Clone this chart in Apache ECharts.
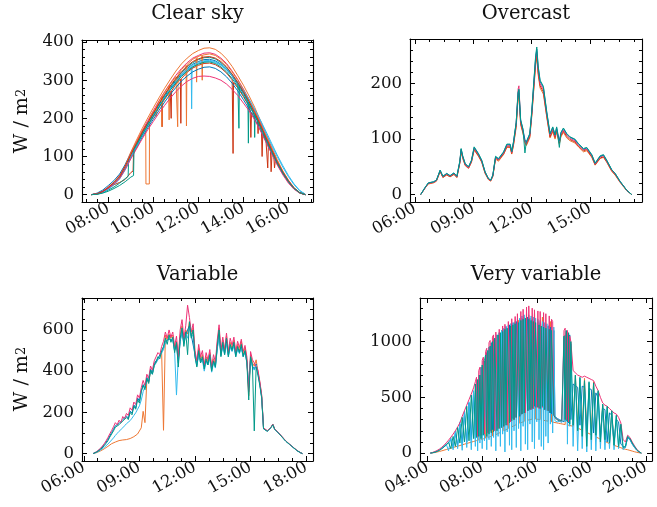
<!DOCTYPE html>
<html><head><meta charset="utf-8">
<script src="https://cdn.jsdelivr.net/npm/echarts@6/dist/echarts.min.js"></script>
<style>html,body{margin:0;padding:0;background:#fff}#chart{width:657px;height:507px}</style>
</head><body><div id="chart"></div>
<script>
// ---------------- DATA ----------------
const titles = ['Clear sky', 'Overcast', 'Variable', 'Very variable'];
const yLabelMain = 'W / m', yLabelSup = '2';

// Clear sky: 15-minute samples
const clearTimes = [7.25,7.5,7.75,8,8.25,8.5,8.75,9,9.25,9.5,9.75,10,10.25,10.5,10.75,11,11.25,11.5,11.75,12,12.25,12.5,12.75,13,13.25,13.5,13.75,14,14.25,14.5,14.75,15,15.25,15.5,15.75,16,16.25,16.5,16.75];
const clearS1 = [0,2,9,20,33,50,78,112,143,173,201,228,254,279,302,324,343,358,370,378,384,385,381,371,356,336,312,287,259,229,195,160,125,92,62,38,18,6,0];
const clearS2 = [0,4,12,24,37,54,79,108,135,162,187,210,235,258,279,299,316,331,342,349,354,355,351,342,329,310,288,265,239,211,180,147,115,84,58,35,16,5,0];
const clearS3 = [0,2,7,16,28,43,68,99,128,156,182,207,231,254,275,294,312,326,337,344,349,350,347,339,327,311,292,270,247,221,192,161,130,100,72,47,26,10,1];
const clearS4 = [0,2,9,19,32,49,75,108,138,167,194,220,246,270,292,313,331,346,358,365,371,372,368,358,344,324,302,277,250,221,189,154,121,88,60,37,17,5,0];
const clearS5 = [0,2,8,16,26,32,40,58,122,155,180,204,228,250,271,290,307,321,332,339,344,345,341,332,319,301,280,257,232,205,175,143,112,82,56,34,16,5,0];
const clearS6 = [0,1,5,12,20,30,42,104,133,162,188,213,238,261,283,302,320,335,346,354,359,360,356,346,333,314,292,268,242,214,183,149,117,86,58,35,17,5,0];
const clearS7 = [0,2,8,19,32,48,75,107,137,166,193,218,244,268,290,310,328,343,355,363,368,369,365,355,341,322,300,275,248,219,187,153,120,88,60,36,17,5,0];
const clearS8 = [0,2,8,17,29,44,68,97,124,150,175,198,221,243,263,281,298,311,322,329,334,335,331,322,309,292,272,249,225,199,170,139,109,80,54,33,16,5,0];
const clearS9 = [0,1,6,14,26,41,65,96,125,153,180,206,231,254,276,296,313,328,339,346,351,352,349,341,330,314,295,273,250,224,196,166,135,104,76,50,28,11,1];
const clearS10 = [0,2,8,17,28,42,66,94,120,146,170,192,214,234,253,270,285,297,305,310,311,310,306,300,290,276,260,240,220,196,168,138,108,78,52,30,14,4,0];
const clearS11 = [0,2,8,19,32,47,74,105,134,163,189,214,239,263,285,305,322,337,349,356,361,362,358,349,335,316,294,270,244,215,184,150,118,86,59,36,17,5,0];
const clearS12 = [0,1,4,9,16,24,34,46,130,157,182,206,230,253,274,293,310,324,335,342,347,348,344,335,322,304,283,260,234,207,177,144,113,83,57,34,16,5,0];
// short drops (shading / passing clouds): groups of [hour, W/m2]
const clearS3Drops = [[[11.68,334],[11.7,225],[11.72,335]]];
const clearS5Drops = [[[9.1,62],[9.12,112]],[[10.37,240],[10.39,178],[10.41,242]],[[10.77,270],[10.79,200],[10.81,272]],[[11.2,303],[11.22,187],[11.24,304]],[[13.52,297],[13.54,108],[13.56,294]],[[14.3,222],[14.33,150],[14.36,215]],[[14.62,196],[14.65,160],[14.68,192]],[[14.8,168],[14.83,100],[14.86,160]],[[15.05,138],[15.08,70],[15.11,133]],[[15.2,118],[15.23,60],[15.27,108]],[[15.35,100],[15.38,70],[15.42,90]]];
const clearS6Drops = [[[8.88,48],[8.9,92]],[[13.78,288],[13.8,174],[13.82,286]],[[14.2,246],[14.22,135],[14.24,240]],[[14.48,210],[14.5,150],[14.52,208]]];
const clearS7Drops = [[[9.66,181],[9.67,28],[9.82,28],[9.83,201]],[[10.1,226],[10.12,205],[10.14,230]],[[10.36,256],[10.38,178],[10.4,260]],[[10.68,285],[10.7,196],[10.72,288]],[[11.06,312],[11.08,178],[11.1,315]],[[11.45,339],[11.47,180],[11.49,341]],[[11.9,360],[11.92,295],[11.94,361]],[[12.15,366],[12.17,300],[12.19,366]]];
const clearS12Drops = [[[9.12,50],[9.14,118]]];

// Overcast
const overcastTimes = [6.29,6.5,6.68,6.95,7.1,7.29,7.43,7.63,7.8,8.0,8.15,8.3,8.37,8.45,8.58,8.75,8.9,9.04,9.26,9.43,9.6,9.77,9.89,10.0,10.08,10.14,10.29,10.55,10.72,10.89,10.97,11.06,11.2,11.3,11.34,11.43,11.55,11.65,11.72,11.8,11.9,12.0,12.1,12.2,12.26,12.33,12.43,12.6,12.77,12.94,13.08,13.2,13.28,13.42,13.5,13.63,13.8,13.97,14.22,14.4,14.66,14.83,15.09,15.26,15.52,15.69,15.86,16.11,16.29,16.54,16.88,17.14];
const overcastO = [0,11,19,21,24,41,31,35,32,36,31,56,77,65,52,47,58,80,69,58,38,27,24,33,51,64,60,72,85,85,73,88,121,175,179,126,110,93,88,90,102,140,186,233,248,216,192,181,140,102,113,100,113,91,104,112,102,97,93,86,77,79,67,53,65,67,58,42,35,22,7,0];
const overcastR = [0,11,20,22,25,42,31,36,32,37,31,57,79,67,53,48,59,82,70,59,39,28,25,33,52,66,62,73,86,86,74,90,124,178,183,128,112,95,90,92,105,143,190,238,252,220,196,185,142,104,116,103,116,93,106,114,105,99,95,87,79,81,68,54,66,68,59,43,36,23,8,0];
const overcastM = [0,11,20,22,25,43,32,37,33,38,32,58,81,68,54,48,60,83,72,60,40,28,25,34,53,67,63,75,88,88,76,92,128,190,196,132,115,97,92,94,107,146,194,243,258,225,200,189,146,107,118,105,118,95,109,116,107,101,97,89,81,82,70,55,68,70,60,44,37,23,8,0];
const overcastB = [0,12,21,23,26,44,33,38,34,39,33,59,82,69,55,50,61,85,73,61,41,29,26,35,54,68,64,76,90,90,77,94,129,183,188,134,117,99,94,96,109,148,198,247,262,230,204,193,148,109,121,107,121,97,111,119,109,103,99,91,82,84,71,56,69,71,61,45,38,24,8,0];
const overcastT = [0,12,21,23,26,44,33,38,34,39,33,60,83,70,56,50,62,86,74,62,41,29,26,35,55,69,65,77,91,91,78,95,130,185,190,135,118,75,95,97,110,150,200,250,266,232,206,195,150,110,122,108,122,85,112,120,110,104,100,92,83,85,72,57,70,72,62,45,38,24,8,0];

// Variable: samples every 6 minutes from 06:30 to 17:48
const variableStart = 6.5, variableStep = 0.1;
const variableO = [0,2,5,9,13,18,23,29,35,42, 48,52,56,60,63,65,66,67,68,70, 73,78,82,88,95,104,125,205,150,360, 345,400,388,430,428,458,452,490,113,575, 550,580,560,575,510,545,460,575,620,540, 600,580,640,570,610,480,440,510,455,480, 420,470,445,490,410,460,430,530,610,480, 550,490,570,480,540,510,550,480,530,500, 545,480,515,455,280,480,440,425,455,395, 345,280,123,115,110,117,127,142,119,111, 101,93,81,71,61,53,45,38,30,22, 15,9,4,0];
const variableB = [0,3,9,16,24,32,44,56,70,86, 102,118,135,128,146,140,165,158,182,172, 206,196,236,222,270,255,305,335,318,370, 350,410,392,438,440,462,455,495,510,545, 550,555,555,550,500,530,440,545,590,540, 575,600,620,575,580,480,430,490,450,460, 420,450,440,470,410,445,425,510,580,480, 530,490,545,480,520,505,530,480,510,495, 520,475,495,450,320,460,425,410,435,390, 340,275,122,114,110,117,127,141,119,111, 101,93,81,71,61,53,45,38,30,22, 15,9,4,0];
const variableC = [0,2,6,11,17,23,30,38,46,56, 66,76,88,98,108,115,125,135,145,150, 160,172,185,198,215,232,260,300,300,350, 345,395,385,425,425,455,450,488,505,540, 540,560,545,560,495,284,470,550,595,530, 580,560,610,565,575,470,425,480,440,455, 400,445,430,460,395,440,415,505,570,475, 520,480,535,470,515,495,520,470,505,485, 510,470,490,440,330,455,420,405,430,385, 335,270,120,113,109,116,126,140,118,110, 100,92,80,70,60,52,44,37,29,21, 14,8,3,0];
const variableM = [0,4,10,18,26,36,48,62,78,96, 112,130,150,140,162,150,180,170,195,185, 222,210,250,238,285,270,320,355,330,385, 365,425,405,450,470,490,480,520,545,590, 560,600,565,590,520,570,470,600,650,560, 620,720,660,590,630,500,450,530,470,500, 430,490,455,505,420,480,445,550,625,500, 565,505,585,495,560,525,565,495,545,515, 555,495,525,470,300,495,455,440,445,405, 350,285,125,116,111,118,128,143,120,112, 102,94,82,72,62,54,46,39,31,23, 16,10,4,0];
const variableT = [0,3,8,14,20,28,38,50,62,80, 95,110,128,122,140,132,158,150,175,165, 200,188,230,215,262,245,300,330,310,365, 340,405,385,430,445,470,460,500,520,560, 530,575,540,565,490,540,420,560,610,520, 590,480,640,560,600,470,420,500,440,470, 410,460,430,480,400,450,420,520,600,470, 540,480,560,470,530,500,540,470,520,490, 530,470,500,440,260,470,430,110,420,380, 330,270,120,112,108,115,125,140,118,110, 100,92,80,70,60,52,45,38,30,22, 15,9,4,0];

// Very variable: [start hour, number of samples, step] blocks (10 min, 5 min, 10 min)
const veryTimeBlocks = [[4.2, 20, 1/6], [7.5, 84, 1/12], [14.5, 32, 1/6]];
const veryO = [0,2,5,10,15,20,26,32,38,44,50,56,62,68,74,80,86,92,98,104,
 110,112,115,118,640,122,125,128,131,135, 900,140,143,147,150,154,158,1020,165,170, 175,180,185,190,1100,200,205,210,215,220, 225,1160,235,240,245,250,255,260,1190,268, 272,276,280,284,288,1260,295,298,300,302, 304,305,1250,305,304,303,302,300,298,1220, 294,292,290,288,286,284,1180,280,278,276, 274,272,270,268,266,264,262,260,258,256, 1080,252,250,248,
 245,240,700,225,215,205,670,185,175,165, 640,145,135,125,430,105,95,85,360,70, 62,55,48,40,34,30,24,18,12,7, 3,0];
const veryB = [0,4,9,17,28,42,58,76,98,122,50,180,70,260,90,360,100,450,120,540,
 130,640,140,700,150,770,160,830,170,180, 900,190,950,200,990,210,1020,220,230,1060, 240,1080,250,1100,260,1110,270,1130,280,290, 1150,300,1160,310,1170,320,1180,1190,330,1200, 340,1210,350,1220,360,370,1220,380,1210,390, 1200,400,1190,410,420,1180,410,1170,400,1160, 390,1150,380,370,1140,360,1130,350,340,1100, 330,320,310,305,300,295,290,285,280,1060, 290,1090,270,1060,
 300,620,600,590,250,600,590,200,580,570, 180,540,500,150,400,390,100,360,340,90, 300,280,80,60,50,140,120,80,50,25, 10,0];
const veryC = [0,4,10,18,30,45,62,80,20,140,30,200,40,280,25,380,50,460,30,560,
 60,640,20,700,90,760,40,820,110,870, 30,920,120,950,60,990,140,1030,20,1060, 150,1080,60,1100,170,1120,10,1140,190,1150, 70,1160,30,1170,200,1180,50,1200,220,1210, 20,1230,240,1240,80,1250,30,1240,260,1230, 100,1220,40,1210,280,1200,120,1190,60,1180, 30,1170,150,1160,90,1150,260,1140,180,1130, 290,300,280,290,285,280,275,270,1040,280, 1090,80,1070,240,
 980,60,690,20,670,40,640,10,630,30, 620,20,550,40,430,30,410,40,370,30, 330,40,250,30,55,145,125,85,55,28, 10,0];
const veryM = [0,6,14,24,36,52,70,92,116,142,170,200,235,272,330,380,430,480,530,585,
 640,680,150,740,770,160,830,860,170,910, 940,180,990,1010,190,1040,1060,200,1085,1095, 220,1110,1120,230,1140,240,1155,1165,250,1180, 1190,280,1205,1215,300,1225,320,1250,1260,330, 1270,350,1290,1300,360,1310,380,1320,1305,390, 1300,400,1285,1280,410,1275,400,1270,1265,410, 1260,390,1250,1240,380,1230,360,1200,1180,340, 320,310,300,300,290,300,290,280,1100,1120, 300,1100,280,1050,
 1000,740,720,700,690,680,690,680,670,660, 650,600,560,500,450,430,420,400,380,360, 350,320,270,120,100,160,140,100,65,35, 14,0];
const veryT = [0,3,8,15,25,38,55,72,95,40,150,60,230,90,320,100,420,110,520,130,
 620,140,660,150,700,130,790,160,830,880, 150,920,170,960,180,1000,190,1030,1040,200, 1060,220,1080,230,1090,240,1110,250,1120,1130, 270,1140,290,1150,300,1160,320,330,1170,330, 1190,350,1200,360,1210,1200,380,1200,390,1190, 400,1180,420,1170,1160,410,1150,400,1140,420, 1130,390,1120,1120,380,1110,360,1100,1090,340, 320,310,300,300,290,300,290,280,1050,300, 1100,280,1080,260,
 1000,250,700,200,680,150,650,60,640,120, 630,160,560,100,440,120,420,90,380,70, 340,60,260,50,60,150,130,90,60,30, 12,0];

// Axis ticks
const clearXTicks = [8,10,12,14,16], clearYTicks = [0,100,200,300,400];
const overcastXTicks = [6,9,12,15], overcastYTicks = [0,100,200];
const variableXTicks = [6,9,12,15,18], variableYTicks = [0,200,400,600];
const veryXTicks = [4,8,12,16,20], veryYTicks = [0,500,1000];

// ---------------- BUILD ----------------
const PAL = {O:'#EE7733', B:'#0077BB', C:'#33BBEE', M:'#EE3377', R:'#CC3311', T:'#009988'};
const FONT = '"DejaVu Serif", serif';
const TICK_FS = 16.5, TITLE_FS = 19.5, LABEL_FS = 19;

function withDrops(times, vals, drops) {
  let pts = [];
  const n = Math.min(times.length, vals.length);
  for (let i = 0; i < n; i++) pts.push([times[i], vals[i]]);
  (drops || []).forEach(g => {
    const a = g[0][0], b = g[g.length - 1][0];
    pts = pts.filter(p => !(p[0] > a && p[0] < b));
    g.forEach(p => pts.push(p));
  });
  pts.sort((p, q) => p[0] - q[0]);
  return pts;
}
function gridTimes(start, count, step) {
  const t = []; for (let i = 0; i < count; i++) t.push(start + i * step); return t;
}
const variableTimes = gridTimes(variableStart, variableT.length, variableStep);
let veryTimes = [];
veryTimeBlocks.forEach(b => { veryTimes = veryTimes.concat(gridTimes(b[0], b[1], b[2])); });

function range(a, b, s) { const r = []; for (let v = a; v <= b + 1e-9; v += s) r.push(+v.toFixed(4)); return r; }
const hourFmt = v => (v < 10 ? '0' : '') + Math.round(v) + ':00';
const numFmt = v => String(Math.round(v));

const grids = [
  {left: 82, top: 40, width: 231, height: 162, x: [6.83, 17.09], y: [-19.3, 405.5], xt: clearXTicks, xm: range(7, 17, 0.5), yt: clearYTicks, ym: range(0, 400, 20)},
  {left: 410, top: 39, width: 232, height: 163, x: [5.74, 17.67], y: [-13.4, 280.4], xt: overcastXTicks, xm: range(6, 17.25, 0.75), yt: overcastYTicks, ym: range(0, 280, 20)},
  {left: 82, top: 298, width: 231, height: 163, x: [5.9, 18.37], y: [-36, 755], xt: variableXTicks, xm: range(6, 18, 0.75), yt: variableYTicks, ym: range(0, 750, 50)},
  {left: 420, top: 298, width: 232, height: 163, x: [3.44, 20.45], y: [-71, 1391], xt: veryXTicks, xm: range(4, 20, 1), yt: veryYTicks, ym: range(0, 1300, 100)}
];

const xAxis = [], yAxis = [];
const lineC = '#000';
grids.forEach((g, gi) => {
  const base = {gridIndex: gi, type: 'value', splitLine: {show: false}, axisPointer: {show: false}};
  const mk = (pos, vals, len, line, labels, isX) => Object.assign({}, base, {
    position: pos, min: isX ? g.x[0] : g.y[0], max: isX ? g.x[1] : g.y[1],
    axisLine: {show: line, onZero: false, lineStyle: {color: lineC, width: 1.1}},
    axisTick: {show: true, inside: true, length: len, customValues: vals, lineStyle: {color: lineC, width: 1}},
    axisLabel: labels ? (isX ? {show: true, customValues: vals, formatter: hourFmt, rotate: 30, margin: 5, fontFamily: FONT, fontSize: TICK_FS, color: '#111'}
                               : {show: true, customValues: vals, formatter: numFmt, margin: 8, fontFamily: FONT, fontSize: TICK_FS, color: '#111'})
                      : {show: false}
  });
  xAxis.push(mk('bottom', g.xt, 5, true, true, true));
  xAxis.push(mk('bottom', g.xm, 3, false, false, true));
  xAxis.push(mk('top', g.xt, 5, true, false, true));
  xAxis.push(mk('top', g.xm, 3, false, false, true));
  yAxis.push(mk('left', g.yt, 5, true, true, false));
  yAxis.push(mk('left', g.ym, 3, false, false, false));
  yAxis.push(mk('right', g.yt, 5, true, false, false));
  yAxis.push(mk('right', g.ym, 3, false, false, false));
});

const series = [];
function addLine(gi, data, color) {
  series.push({type: 'line', xAxisIndex: gi * 4, yAxisIndex: gi * 4, data: data, symbol: 'none', showSymbol: false,
    lineStyle: {color: color, width: 1}, itemStyle: {color: color}, silent: true, animation: false, clip: true});
}
// Clear sky
[[clearS1, null, 'O'], [clearS2, null, 'B'], [clearS3, clearS3Drops, 'C'], [clearS4, null, 'M'], [clearS5, clearS5Drops, 'R'], [clearS6, clearS6Drops, 'T'],
 [clearS7, clearS7Drops, 'O'], [clearS8, null, 'B'], [clearS9, null, 'C'], [clearS10, null, 'M'], [clearS11, null, 'R'], [clearS12, clearS12Drops, 'T']]
 .forEach(s => addLine(0, withDrops(clearTimes, s[0], s[1]), PAL[s[2]]));
// Overcast
[[overcastO, 'O'], [overcastR, 'R'], [overcastM, 'M'], [overcastB, 'B'], [overcastT, 'T']]
 .forEach(s => addLine(1, withDrops(overcastTimes, s[0]), PAL[s[1]]));
// Variable
[[variableO, 'O'], [variableB, 'B'], [variableC, 'C'], [variableM, 'M'], [variableT, 'T']]
 .forEach(s => addLine(2, withDrops(variableTimes, s[0]), PAL[s[1]]));
// Very variable
[[veryO, 'O'], [veryB, 'B'], [veryC, 'C'], [veryM, 'M'], [veryT, 'T']]
 .forEach(s => addLine(3, withDrops(veryTimes, s[0]), PAL[s[1]]));

const txt = (t, x, y, size) => ({type: 'text', x: x, y: y, silent: true, z: 100,
  style: {text: t, font: size + 'px ' + FONT, fill: '#111', textAlign: 'center', textVerticalAlign: 'middle', align: 'center', verticalAlign: 'middle'}});
const ylab = (x, y) => ({type: 'text', x: x, y: y, rotation: Math.PI / 2, silent: true, z: 100,
  style: {text: '{a|' + yLabelMain + '}{b|' + yLabelSup + '}', fill: '#111', align: 'center', verticalAlign: 'middle', textAlign: 'center', textVerticalAlign: 'middle',
    rich: {a: {fontFamily: FONT, fontSize: LABEL_FS, fill: '#111', color: '#111', verticalAlign: 'bottom', height: 24, lineHeight: 24},
           b: {fontFamily: FONT, fontSize: 13, fill: '#111', color: '#111', verticalAlign: 'top', height: 24, lineHeight: 14}}}});
const graphic = [
  txt(titles[0], 197.5, 14, TITLE_FS),
  txt(titles[1], 526, 14, TITLE_FS),
  txt(titles[2], 197.5, 275, TITLE_FS),
  txt(titles[3], 536, 275, TITLE_FS),
  ylab(22, 121),
  ylab(22, 379)
];

const chart = echarts.init(document.getElementById('chart'), null, {renderer: 'canvas', devicePixelRatio: 1});
chart.setOption({
  animation: false,
  backgroundColor: '#fff',
  textStyle: {fontFamily: FONT},
  grid: grids.map(g => ({left: g.left, top: g.top, width: g.width, height: g.height, containLabel: false})),
  xAxis: xAxis, yAxis: yAxis, series: series, graphic: graphic
});
</script></body></html>
